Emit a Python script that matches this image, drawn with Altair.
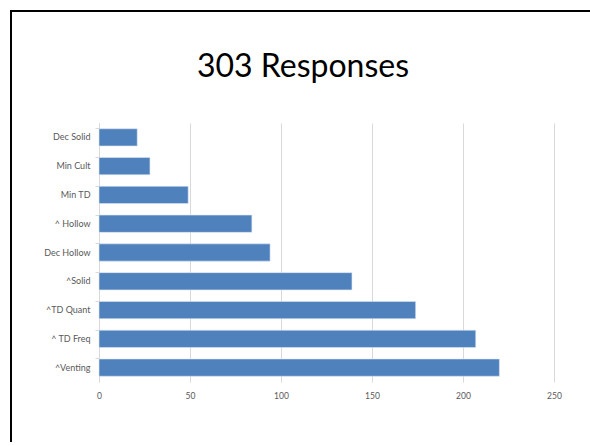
import altair as alt
import pandas as pd

# Survey answers, listed top to bottom as they appear on the chart
categories = ["Dec Solid", "Min Cult", "Min TD", "^ Hollow", "Dec Hollow",
              "^Solid", "^TD Quant", "^ TD Freq", "^Venting"]
counts = [21, 28, 49, 84, 94, 139, 174, 207, 220]
x_ticks = [0, 50, 100, 150, 200, 250]
heading = ["303 Responses"]

df = pd.DataFrame({"category": categories, "count": counts})
head_df = pd.DataFrame({"text": heading})

PLOT_W = 455
PLOT_H = 259
LEFT = 99
TOP = 123

bars = alt.Chart(df).mark_bar(color="#4f81bd", stroke="#dce6f2", strokeWidth=0.6).encode(
    x=alt.X("count:Q",
            scale=alt.Scale(domain=[0, 250], nice=False),
            axis=alt.Axis(values=x_ticks, title=None, grid=True, gridColor="#d9d9d9",
                          domain=False, ticks=False, labelFontSize=8.5, labelFlush=False,
                          labelColor="#595959", labelPadding=9, labelFont="Lato")),
    y=alt.Y("category:N", sort=categories,
            scale=alt.Scale(paddingInner=0.4, paddingOuter=0.2),
            axis=alt.Axis(title=None, domainColor="#d9d9d9", tickColor="#d9d9d9",
                          tickSize=4, bandPosition=0, labelFontSize=9,
                          labelColor="#595959", labelPadding=5, labelFont="Lato")),
)

# Slide heading, centred on the slide frame
title = alt.Chart(head_df).mark_text(
    font="Lato", fontSize=32, color="black", align="center", baseline="alphabetic"
).encode(text="text:N", x=alt.value(303 - LEFT), y=alt.value(77 - TOP))

# Slide frame; only its top and left edges fall inside the canvas
frame = alt.Chart(head_df).mark_rect(fill=None, stroke="black", strokeWidth=2).encode(
    x=alt.value(11 - LEFT), x2=alt.value(700 - LEFT),
    y=alt.value(11 - TOP), y2=alt.value(600 - TOP)
)

chart = alt.layer(bars, title, frame).properties(
    width=PLOT_W,
    height=PLOT_H,
    autosize=alt.AutoSizeParams(type="none"),
    padding={"left": LEFT, "top": TOP, "right": 36, "bottom": 60},
).configure(background="white").configure_view(stroke=None)

chart.save("out.html", embed_options={"renderer": "svg", "actions": False})
